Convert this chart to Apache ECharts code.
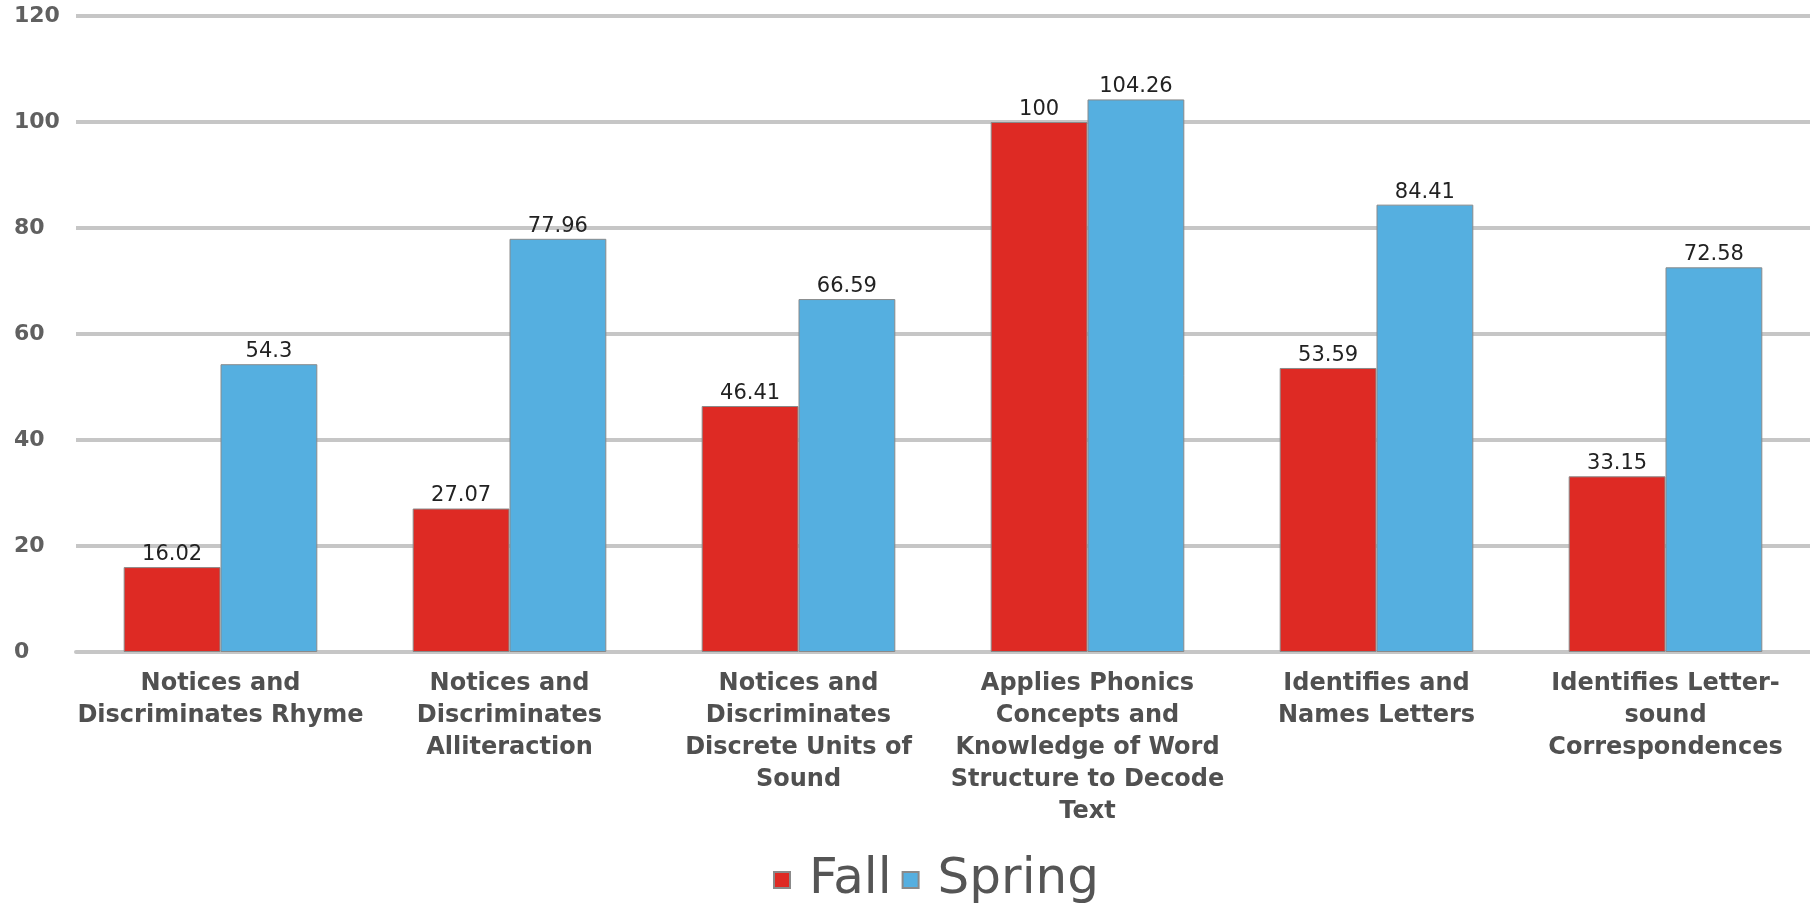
<!DOCTYPE html>
<html>
<head>
<meta charset="utf-8">
<script src="https://cdn.jsdelivr.net/npm/echarts@6/dist/echarts.min.js"></script>
<style>html,body{margin:0;padding:0;background:#fff;}#c{width:1810px;height:903px;}</style>
</head>
<body>
<div id="c"></div>
<script>
const categories = [
  "Notices and\nDiscriminates Rhyme",
  "Notices and\nDiscriminates\nAlliteraction",
  "Notices and\nDiscriminates\nDiscrete Units of\nSound",
  "Applies Phonics\nConcepts and\nKnowledge of Word\nStructure to Decode\nText",
  "Identifies and\nNames Letters",
  "Identifies Letter-\nsound\nCorrespondences"
];
const fallValues = [16.02, 27.07, 46.41, 100, 53.59, 33.15];
const springValues = [54.3, 77.96, 66.59, 104.26, 84.41, 72.58];
const yTicks = { min: 0, max: 120, interval: 20 };

const chart = echarts.init(document.getElementById('c'));
const labelStyle = {
  show: true, position: 'top', distance: 2,
  fontFamily: 'DejaVu Sans', fontSize: 21, color: '#222'
};
chart.setOption({
  animation: false,
  backgroundColor: '#fff',
  grid: { left: 76, right: 0, top: 16, bottom: 251, containLabel: false },
  legend: {
    bottom: -7, left: 768,
    itemWidth: 16, itemHeight: 16, itemGap: 10,
    icon: 'rect',
    textStyle: { fontFamily: 'DejaVu Sans', fontSize: 50, color: '#555', padding: [0, 0, 0, 14] },
    data: ['Fall', 'Spring']
  },
  xAxis: {
    type: 'category',
    data: categories,
    axisLine: { show: true, lineStyle: { color: '#c6c6c6', width: 4 } },
    axisTick: { show: false },
    axisLabel: {
      interval: 0, margin: 16,
      fontFamily: 'DejaVu Sans', fontWeight: 'bold', fontSize: 24, lineHeight: 32,
      color: '#505050', align: 'center'
    }
  },
  yAxis: {
    type: 'value',
    min: yTicks.min, max: yTicks.max, interval: yTicks.interval,
    axisLine: { show: false },
    axisTick: { show: false },
    splitLine: { lineStyle: { color: '#c6c6c6', width: 4 } },
    axisLabel: {
      align: 'left', margin: 62,
      fontFamily: 'DejaVu Sans', fontWeight: 'bold', fontSize: 22, color: '#606060'
    }
  },
  series: [
    {
      name: 'Fall', type: 'bar', data: fallValues,
      barGap: '0%', barCategoryGap: '33%',
      itemStyle: { color: '#de2a24', borderColor: '#8a8a8a', borderWidth: 1 },
      label: labelStyle
    },
    {
      name: 'Spring', type: 'bar', data: springValues,
      barGap: '0%', barCategoryGap: '33%',
      itemStyle: { color: '#55afe0', borderColor: '#8a8a8a', borderWidth: 1 },
      label: labelStyle
    }
  ]
});
</script>
</body>
</html>
